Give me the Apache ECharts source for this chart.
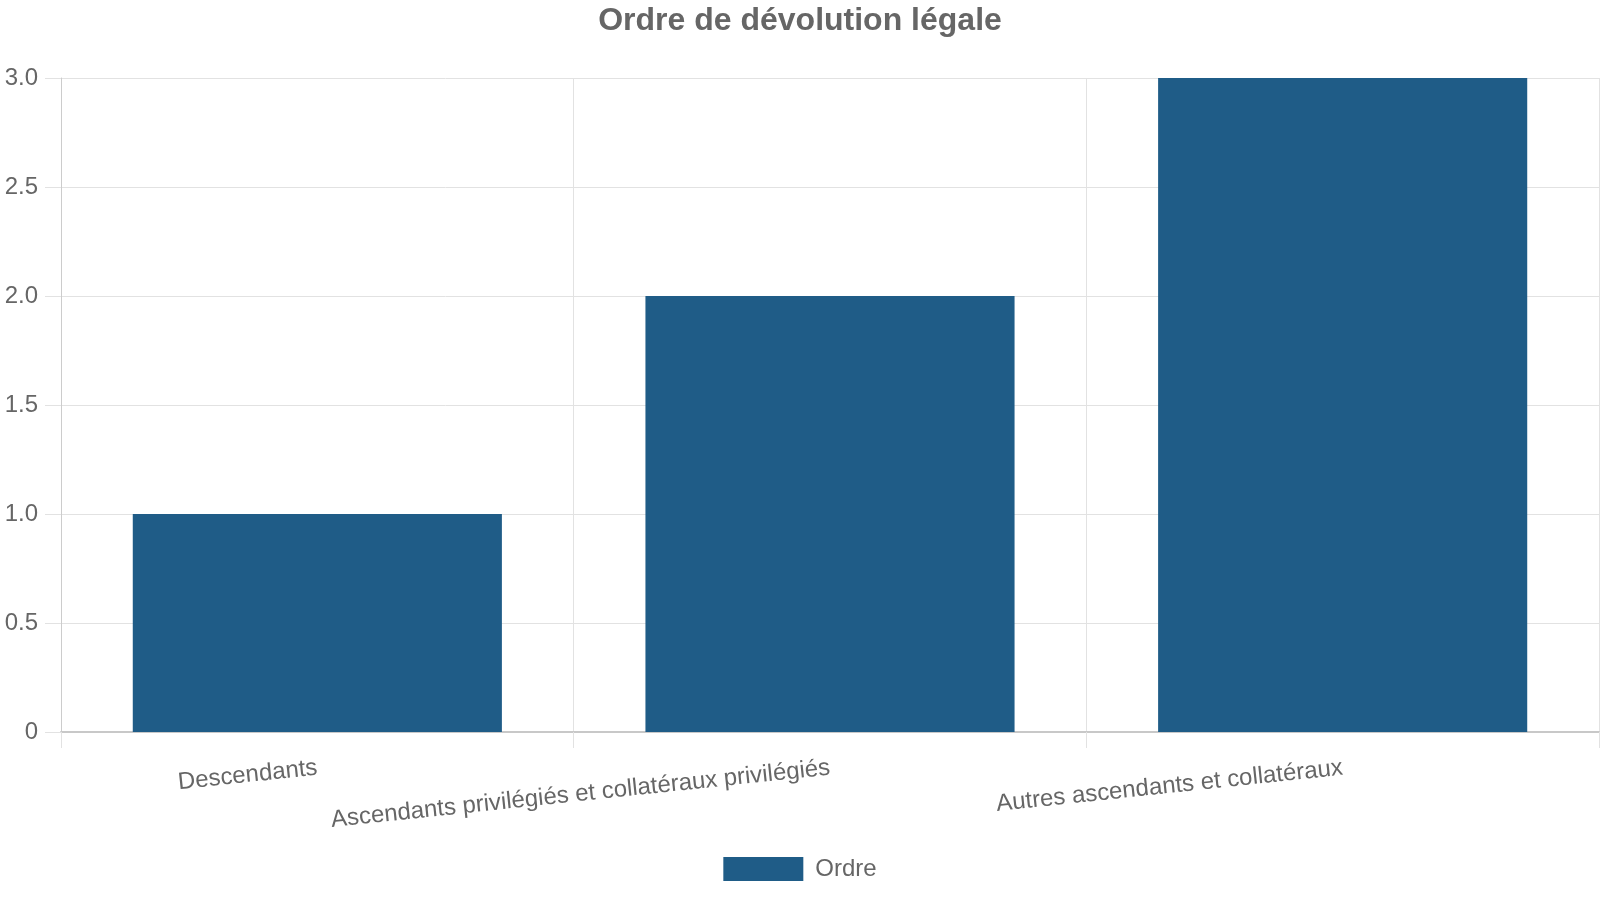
<!DOCTYPE html>
<html>
<head>
<meta charset="utf-8">
<script src="https://cdn.jsdelivr.net/npm/echarts@6/dist/echarts.min.js"></script>
<style>
  html, body { margin: 0; padding: 0; background: #fff; }
  #container { width: 1600px; height: 900px; }
</style>
</head>
<body>
<div id="container"></div>
<script>
const chartIns = echarts.init(document.getElementById('container'));

// données
const categories = ['Descendants', 'Ascendants privilégiés et collatéraux privilégiés', 'Autres ascendants et collatéraux'];
const ordreValues = [1, 2, 3];
const seriesName = 'Ordre';

const FONT = 'Liberation Sans, Arial, sans-serif';
const gridColor = '#e2e2e2';

const option = {
  animation: false,
  title: {
    text: 'Ordre de dévolution légale',
    left: 'center',
    top: 0,
    textStyle: { fontFamily: FONT, fontSize: 32, fontWeight: 'bold', color: '#666' }
  },
  legend: {
    bottom: 14,
    left: 'center',
    itemWidth: 80,
    itemHeight: 24,
    icon: 'rect',
    textStyle: { fontFamily: FONT, fontSize: 24, color: '#666', padding: [0, 0, 0, 7] },
    data: [seriesName]
  },
  grid: { left: 61, right: 1, top: 78, bottom: 168 },
  xAxis: {
    type: 'category',
    data: categories,
    boundaryGap: true,
    axisLine: { lineStyle: { color: '#c8c8c8', width: 2 } },
    axisTick: { show: true, length: 16, lineStyle: { color: gridColor } },
    splitLine: { show: true, lineStyle: { color: gridColor } },
    axisLabel: {
      interval: 0,
      rotate: 6,
      margin: 36,
      fontFamily: FONT,
      fontSize: 24,
      color: '#666'
    }
  },
  yAxis: {
    type: 'value',
    min: 0,
    max: 3,
    interval: 0.5,
    axisLine: { show: true, lineStyle: { color: '#ccc', width: 1 } },
    axisTick: { show: true, length: 16, lineStyle: { color: gridColor } },
    splitLine: { show: true, lineStyle: { color: gridColor } },
    axisLabel: {
      margin: 23,
      fontFamily: FONT,
      fontSize: 24,
      color: '#666',
      formatter: v => v === 0 ? '0' : v.toFixed(1)
    }
  },
  series: [{
    name: seriesName,
    type: 'bar',
    data: ordreValues,
    barCategoryGap: '28%',
    itemStyle: { color: '#1f5c87' }
  }]
};

chartIns.setOption(option);
</script>
</body>
</html>
